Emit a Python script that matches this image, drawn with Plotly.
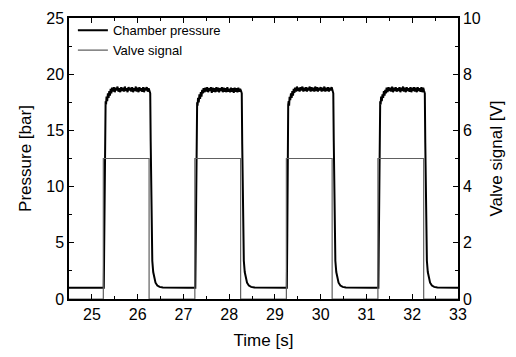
import plotly.graph_objects as go

# ---- data ----
# pulse 1 : baseline, rising edge, plateau, falling edge
p1_time = [24.50, 24.70, 24.90, 25.10, 25.26, 25.27, 25.28, 25.29, 25.30, 25.31, 25.32, 25.335, 25.35, 25.365, 25.38, 25.395, 25.41, 25.425, 25.44,
           25.46, 25.48, 25.50, 25.52, 25.54, 25.56, 25.58, 25.60, 25.62, 25.64, 25.66, 25.68, 25.70, 25.72, 25.74, 25.76, 25.78, 25.80, 25.82, 25.84,
           25.86, 25.88, 25.90, 25.92, 25.94, 25.96, 25.98, 26.00, 26.02, 26.04, 26.06, 26.08, 26.10, 26.12, 26.14, 26.16, 26.18, 26.20, 26.22, 26.24, 26.26,
           26.275, 26.285, 26.295, 26.305, 26.32, 26.34, 26.36, 26.39, 26.43, 26.48, 26.55, 26.70, 26.90, 27.10]
p1_bar = [1.00, 1.02, 0.98, 1.01, 1.00, 6.0, 15.8, 17.2, 17.6, 17.3, 18.0, 17.6, 18.3, 17.9, 18.5, 18.1, 18.7, 18.3, 18.8,
          18.45, 18.85, 18.40, 18.80, 18.55, 18.90, 18.45, 18.75, 18.40, 18.85, 18.50, 18.80, 18.45, 18.90, 18.50, 18.75, 18.40, 18.85, 18.55, 18.80,
          18.45, 18.85, 18.40, 18.75, 18.50, 18.90, 18.45, 18.80, 18.40, 18.85, 18.50, 18.75, 18.45, 18.85, 18.40, 18.80, 18.55, 18.85, 18.45, 18.75, 18.50,
          18.3, 14.0, 8.5, 5.2, 3.4, 2.4, 1.85, 1.45, 1.2, 1.08, 1.02, 1.00, 1.02, 0.99]

p2_time = [27.26, 27.27, 27.28, 27.29, 27.30, 27.31, 27.32, 27.335, 27.35, 27.365, 27.38, 27.395, 27.41, 27.425, 27.44,
           27.46, 27.48, 27.50, 27.52, 27.54, 27.56, 27.58, 27.60, 27.62, 27.64, 27.66, 27.68, 27.70, 27.72, 27.74, 27.76, 27.78, 27.80, 27.82, 27.84,
           27.86, 27.88, 27.90, 27.92, 27.94, 27.96, 27.98, 28.00, 28.02, 28.04, 28.06, 28.08, 28.10, 28.12, 28.14, 28.16, 28.18, 28.20, 28.22, 28.24, 28.26,
           28.275, 28.285, 28.295, 28.305, 28.32, 28.34, 28.36, 28.39, 28.43, 28.48, 28.55, 28.70, 28.90, 29.10]
p2_bar = [1.00, 6.2, 15.6, 17.1, 17.5, 17.2, 17.9, 17.5, 18.2, 17.8, 18.4, 18.0, 18.6, 18.3, 18.75,
          18.40, 18.80, 18.45, 18.85, 18.40, 18.75, 18.50, 18.85, 18.35, 18.80, 18.45, 18.75, 18.40, 18.85, 18.45, 18.80, 18.40, 18.75, 18.50, 18.85,
          18.40, 18.80, 18.45, 18.75, 18.40, 18.85, 18.45, 18.70, 18.40, 18.80, 18.45, 18.75, 18.35, 18.80, 18.45, 18.75, 18.40, 18.80, 18.45, 18.70, 18.50,
          18.3, 13.8, 8.4, 5.1, 3.4, 2.4, 1.85, 1.45, 1.2, 1.08, 1.02, 1.01, 0.99, 1.01]

p3_time = [29.26, 29.27, 29.28, 29.29, 29.30, 29.31, 29.32, 29.335, 29.35, 29.365, 29.38, 29.395, 29.41, 29.425, 29.44,
           29.46, 29.48, 29.50, 29.52, 29.54, 29.56, 29.58, 29.60, 29.62, 29.64, 29.66, 29.68, 29.70, 29.72, 29.74, 29.76, 29.78, 29.80, 29.82, 29.84,
           29.86, 29.88, 29.90, 29.92, 29.94, 29.96, 29.98, 30.00, 30.02, 30.04, 30.06, 30.08, 30.10, 30.12, 30.14, 30.16, 30.18, 30.20, 30.22, 30.24, 30.26,
           30.275, 30.285, 30.295, 30.305, 30.32, 30.34, 30.36, 30.39, 30.43, 30.48, 30.55, 30.70, 30.90, 31.10]
p3_bar = [1.00, 5.8, 15.9, 17.3, 17.6, 17.2, 18.0, 17.7, 18.3, 17.9, 18.5, 18.1, 18.7, 18.35, 18.8,
          18.45, 18.90, 18.50, 18.80, 18.45, 18.85, 18.55, 18.90, 18.45, 18.80, 18.50, 18.85, 18.45, 18.80, 18.55, 18.90, 18.45, 18.85, 18.50, 18.80,
          18.45, 18.90, 18.50, 18.85, 18.45, 18.80, 18.55, 18.85, 18.45, 18.80, 18.50, 18.90, 18.45, 18.80, 18.50, 18.85, 18.45, 18.80, 18.55, 18.85, 18.55,
          18.3, 14.1, 8.6, 5.2, 3.4, 2.4, 1.85, 1.45, 1.2, 1.08, 1.02, 1.00, 1.02, 1.00]

p4_time = [31.26, 31.27, 31.28, 31.29, 31.30, 31.31, 31.32, 31.335, 31.35, 31.365, 31.38, 31.395, 31.41, 31.425, 31.44,
           31.46, 31.48, 31.50, 31.52, 31.54, 31.56, 31.58, 31.60, 31.62, 31.64, 31.66, 31.68, 31.70, 31.72, 31.74, 31.76, 31.78, 31.80, 31.82, 31.84,
           31.86, 31.88, 31.90, 31.92, 31.94, 31.96, 31.98, 32.00, 32.02, 32.04, 32.06, 32.08, 32.10, 32.12, 32.14, 32.16, 32.18, 32.20, 32.22, 32.24, 32.26,
           32.275, 32.285, 32.295, 32.305, 32.32, 32.34, 32.36, 32.39, 32.43, 32.48, 32.55, 32.70, 32.90, 33.00]
p4_bar = [1.00, 6.0, 15.7, 17.2, 17.6, 17.3, 18.0, 17.6, 18.2, 17.9, 18.5, 18.1, 18.6, 18.3, 18.8,
          18.40, 18.85, 18.50, 18.80, 18.45, 18.90, 18.40, 18.80, 18.50, 18.85, 18.45, 18.75, 18.50, 18.85, 18.40, 18.80, 18.50, 18.90, 18.45, 18.80,
          18.40, 18.85, 18.50, 18.75, 18.45, 18.85, 18.40, 18.80, 18.50, 18.85, 18.45, 18.80, 18.40, 18.85, 18.50, 18.75, 18.45, 18.85, 18.40, 18.80, 18.50,
          18.3, 13.9, 8.5, 5.2, 3.4, 2.4, 1.85, 1.45, 1.2, 1.08, 1.02, 1.00, 1.01, 1.00]

valve_time = [24.5, 25.25, 25.25, 26.25, 26.25, 27.25, 27.25, 28.25, 28.25,
              29.25, 29.25, 30.25, 30.25, 31.25, 31.25, 32.25, 32.25, 33.0]
valve_volt = [0, 0, 5, 5, 0, 0, 5, 5, 0, 0, 5, 5, 0, 0, 5, 5, 0, 0]

x_ticks = [25, 26, 27, 28, 29, 30, 31, 32, 33]
y_ticks = [0, 5, 10, 15, 20, 25]
y2_ticks = [0, 2, 4, 6, 8, 10]

pressure_time = p1_time + p2_time + p3_time + p4_time
pressure_bar = p1_bar + p2_bar + p3_bar + p4_bar

FONT = "Liberation Sans, Arial, sans-serif"

fig = go.Figure()
fig.add_trace(go.Scatter(x=pressure_time, y=pressure_bar, mode="lines",
                         name="Chamber pressure",
                         line=dict(color="black", width=2)))
fig.add_trace(go.Scatter(x=valve_time, y=valve_volt, mode="lines",
                         name="Valve signal", yaxis="y2",
                         line=dict(color="#606060", width=1.2)))

axis_common = dict(showgrid=False, zeroline=False, showline=True, automargin=False,
                   linecolor="black", linewidth=1.5,
                   ticks="inside", ticklen=5, tickwidth=1.2, tickcolor="black",
                   tickfont=dict(family=FONT, size=16, color="black"))

# the page body adds an 8px offset, so the figure is 8px smaller and shifted
fig.update_layout(
    width=508, height=349,
    margin=dict(l=61, r=58, t=7, b=58),
    paper_bgcolor="white", plot_bgcolor="white",
    font=dict(family=FONT, color="black"),
    showlegend=True,
    legend=dict(x=0.01, y=1.01, xanchor="left", yanchor="top",
                bgcolor="rgba(0,0,0,0)", font=dict(family=FONT, size=13, color="black"),
                tracegroupgap=0, itemwidth=30),
    xaxis=dict(range=[24.5, 33], tickvals=x_ticks, mirror="ticks",
               minor=dict(dtick=0.5, ticks="inside", ticklen=3, tickcolor="black"),
               title=dict(text="Time [s]", font=dict(family=FONT, size=17), standoff=12),
               **axis_common),
    yaxis=dict(range=[0, 25], tickvals=y_ticks,
               minor=dict(dtick=2.5, ticks="inside", ticklen=3, tickcolor="black"),
               title=dict(text="Pressure [bar]", font=dict(family=FONT, size=17), standoff=10),
               **axis_common),
    yaxis2=dict(range=[0, 10], tickvals=y2_ticks, overlaying="y", side="right",
                minor=dict(dtick=1, ticks="inside", ticklen=3, tickcolor="black"),
                title=dict(text="Valve signal [V]", font=dict(family=FONT, size=17), standoff=10),
                **axis_common),
)

fig.write_html("out.html")
